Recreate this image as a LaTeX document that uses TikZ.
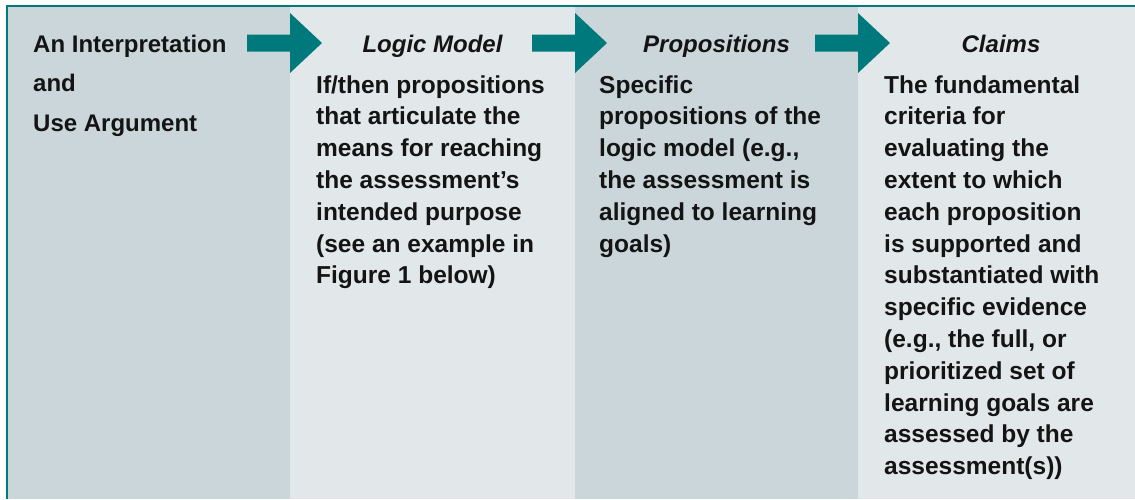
\documentclass[tikz,border=0pt]{standalone}
\usepackage{fontspec}
\setmainfont{Liberation Sans}
\usetikzlibrary{positioning}
\definecolor{tealStroke}{HTML}{00797C}
\definecolor{colDark}{HTML}{CBD6DB}
\definecolor{colLight}{HTML}{E2E8EA}
\definecolor{textMain}{HTML}{141414}

\begin{document}
\begin{tikzpicture}[
    x=1pt, y=-1pt,
    column/.style={
        rectangle, inner sep=0pt, outer sep=0pt,
        minimum height=493pt
    },
    darkCol/.style={column, fill=colDark},
    lightCol/.style={column, fill=colLight},
    heading/.style={font=\fontsize{24}{29}\selectfont\bfseries\itshape,
        text=textMain, inner sep=0pt, anchor=base},
    body/.style={font=\fontsize{24.5}{31.8}\selectfont\bfseries,
        text=textMain, inner sep=0pt, align=left, anchor=north west},
    stepArrow/.pic={
        \fill[tealStroke] (-43,-8.5) -- (0,-8.5) -- (0,-30) -- (32,0)
            -- (0,30) -- (0,8.5) -- (-43,8.5) -- cycle;
    }
]
\useasboundingbox (0,0) rectangle (1135,499);

% four columns side by side
\node[darkCol, minimum width=283pt, anchor=north west] (col1) at (7,6) {};
\node[lightCol, minimum width=285pt, right=0pt of col1] (col2) {};
\node[darkCol, minimum width=283pt, right=0pt of col2] (col3) {};
\node[lightCol, minimum width=277pt, right=0pt of col3] (col4) {};

% frame on the left and top only
\draw[tealStroke, line width=2pt] (col1.south west) -- (col1.north west) -- (col4.north east);

% arrows from one column into the next
\foreach \c in {col2,col3,col4}
  \pic at ([yshift=-37pt]\c.north west) {stepArrow};

% headings
\node[body, font=\fontsize{24}{39.5}\selectfont\bfseries] (argument)
  at ([xshift=26pt, yshift=-28.8pt]col1.north west)
  {An Interpretation\\and\\Use Argument};
\node[heading] (logicHead) at ([yshift=-46pt]col2.north) {Logic Model};
\node[heading] (propHead) at ([yshift=-46pt]col3.north) {Propositions};
\node[heading] (claimHead) at ([xshift=4.5pt, yshift=-46pt]col4.north) {Claims};

% column texts
\node[body] (logicText) at ([xshift=26pt, yshift=-69.1pt]col2.north west)
  {If/then propositions\\that articulate the\\means for reaching\\the assessment’s\\intended purpose\\(see an example in\\Figure 1 below)};
\node[body] (propText) at ([xshift=24pt, yshift=-69.1pt]col3.north west)
  {Specific\\propositions of the\\logic model (e.g.,\\the assessment is\\aligned to learning\\goals)};
\node[body] (claimText) at ([xshift=26pt, yshift=-69.1pt]col4.north west)
  {The fundamental\\criteria for\\evaluating the\\extent to which\\each proposition\\is supported and\\substantiated with\\specific evidence\\(e.g., the full, or\\prioritized set of\\learning goals are\\assessed by the\\assessment(s))};

\end{tikzpicture}
\end{document}
